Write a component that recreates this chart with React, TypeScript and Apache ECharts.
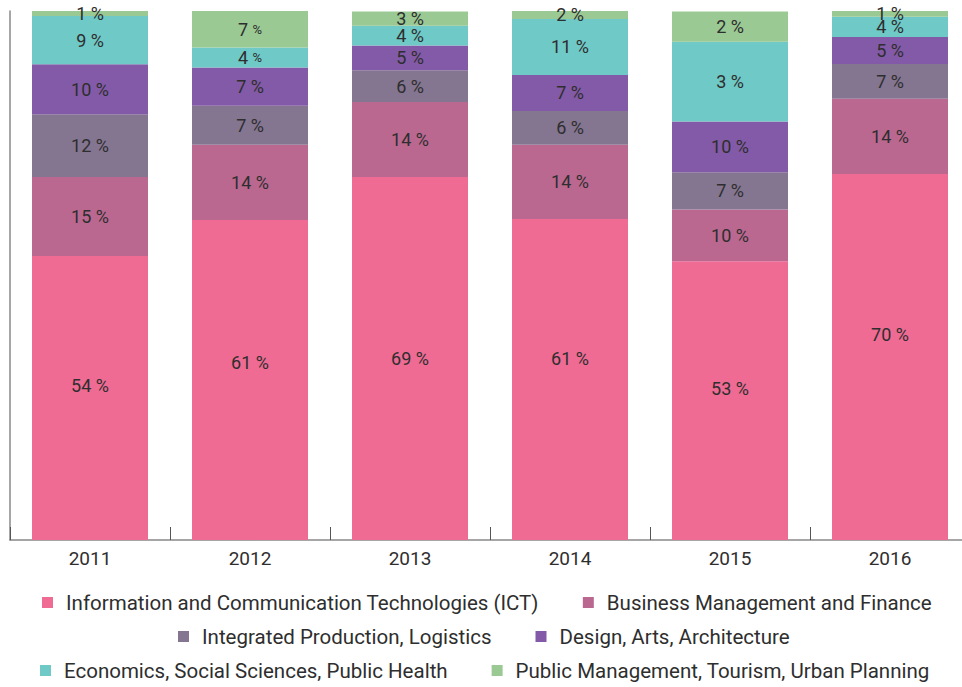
import React, { useEffect, useRef } from "react";
import * as echarts from "echarts";

const years = ["2011", "2012", "2013", "2014", "2015", "2016"];

const seriesNames = [
  "Information and Communication Technologies (ICT)",
  "Business Management and Finance",
  "Integrated Production, Logistics",
  "Design, Arts, Architecture",
  "Economics, Social Sciences, Public Health",
  "Public Management, Tourism, Urban Planning",
];

const colors = ["#EF6B94", "#BB6891", "#847591", "#835AA7", "#6FC9C6", "#9AC994"];

// segment shares (bar heights)
const ictValues = [53.7, 60.5, 68.6, 60.7, 52.7, 69.2];
const businessValues = [14.9, 14.2, 14.2, 14.0, 9.8, 14.2];
const productionValues = [11.9, 7.4, 6.0, 6.4, 7.0, 6.6];
const designValues = [9.45, 7.2, 4.7, 6.8, 9.6, 5.1];
const economicsValues = [9.1, 3.8, 3.7, 10.6, 15.1, 3.8];
const publicValues = [0.95, 7.0, 2.7, 1.5, 5.7, 1.1];

// labels printed in the segments
const ictLabels = ["54 %", "61 %", "69 %", "61 %", "53 %", "70 %"];
const businessLabels = ["15 %", "14 %", "14 %", "14 %", "10 %", "14 %"];
const productionLabels = ["12 %", "7 %", "6 %", "6 %", "7 %", "7 %"];
const designLabels = ["10 %", "7 %", "5 %", "7 %", "10 %", "5 %"];
const economicsLabels = ["9 %", "4 {s|%}", "4 %", "11 %", "3 %", "4 %"];
const publicLabels = ["1 %", "7 {s|%}", "3 %", "2 %", "2 %", "1 %"];

const allValues = [ictValues, businessValues, productionValues, designValues, economicsValues, publicValues];
const allLabels = [ictLabels, businessLabels, productionLabels, designLabels, economicsLabels, publicLabels];

// layout: vertical nudge of the ICT labels (px), as placed in the reference
const ictLabelNudge = [-12, -17, 0, -21, -12, -22];

const FONT = "Roboto";
const TEXT = "#2e2e2e";

export default function App() {
  const ref = useRef<HTMLDivElement>(null);
  useEffect(() => {
    document.body.style.margin = "0";
    if (!ref.current) return;
    const chart = echarts.init(ref.current, undefined, { renderer: "svg" });
    const series = seriesNames.map((name, i) => ({
      name,
      type: "bar",
      stack: "total",
      barWidth: 116,
      itemStyle: { color: colors[i] },
      label: {
        show: true,
        position: "inside",
        fontFamily: FONT,
        fontSize: 18,
        color: TEXT,
        formatter: (p: any) => allLabels[i][p.dataIndex],
        rich: { s: { fontFamily: FONT, fontSize: 13, color: TEXT } },
      },
      data: allValues[i].map((v, j) =>
        i === 0 ? { value: v, label: { offset: [0, ictLabelNudge[j]] } } : v
      ),
    }));
    const legendRow = (names: string[], left: number, top: number) => ({
      data: names,
      top,
      left,
      orient: "horizontal",
      itemWidth: 11,
      itemHeight: 11,
      itemGap: 44,
      icon: "rect",
      textStyle: { fontFamily: FONT, fontSize: 20.5, color: TEXT, padding: [0, 0, 0, 8] },
    });
    chart.setOption({
      animation: false,
      color: colors,
      grid: { left: 10, top: 11, width: 960, height: 529, outerBoundsMode: "none", containLabel: false },
      legend: [
        legendRow(seriesNames.slice(0, 2), 37, 587),
        legendRow(seriesNames.slice(2, 4), 173, 621),
        legendRow(seriesNames.slice(4, 6), 35, 655),
      ],
      xAxis: {
        type: "category",
        data: years,
        axisLine: { lineStyle: { color: "#888888", width: 1.5 } },
        axisTick: { show: true, inside: true, length: 13, lineStyle: { color: "#555555", width: 1 } },
        axisLabel: { fontFamily: FONT, fontSize: 19, color: TEXT, margin: 9 },
      },
      yAxis: {
        type: "value",
        min: 0,
        max: 100,
        axisLine: { show: true, lineStyle: { color: "#888888", width: 1.5 } },
        axisTick: { show: false },
        axisLabel: { show: false },
        splitLine: { show: false },
      },
      series,
    });
    return () => chart.dispose();
  }, []);
  return <div ref={ref} style={{ width: 962, height: 687 }} />;
}
